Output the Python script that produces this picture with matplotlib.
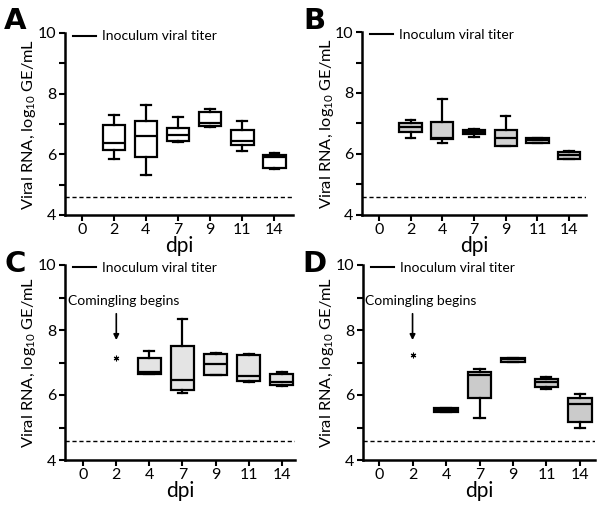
import matplotlib
matplotlib.use('Agg')
import matplotlib.pyplot as plt
from matplotlib.lines import Line2D

plt.rcParams['font.family'] = ['Lato', 'DejaVu Sans']
plt.rcParams['mathtext.fontset'] = 'custom'
plt.rcParams['mathtext.rm'] = 'Lato'

DPI_LABELS = ['0', '2', '4', '7', '9', '11', '14']
INOCULUM = 4.6

# panel A
A_days = ['2', '4', '7', '9', '11', '14']
A_lo = [5.85, 5.33, 6.40, 6.90, 6.10, 5.53]
A_q1 = [6.15, 5.92, 6.45, 6.92, 6.32, 5.55]
A_med = [6.37, 6.59, 6.65, 7.02, 6.45, 5.91]
A_q3 = [6.98, 7.11, 6.87, 7.40, 6.80, 5.99]
A_hi = [7.31, 7.62, 7.23, 7.49, 7.09, 6.05]

# panel B
B_days = ['2', '4', '7', '9', '11', '14']
B_lo = [6.54, 6.37, 6.57, 6.27, 6.35, 5.83]
B_q1 = [6.73, 6.49, 6.64, 6.27, 6.37, 5.85]
B_med = [6.89, 6.54, 6.71, 6.54, 6.45, 5.98]
B_q3 = [7.00, 7.05, 6.78, 6.78, 6.51, 6.05]
B_hi = [7.12, 7.79, 6.83, 7.25, 6.53, 6.11]

# panel C (comingling from day 2)
C_days = ['4', '7', '9', '11', '14']
C_lo = [6.66, 6.05, 6.61, 6.40, 6.29]
C_q1 = [6.66, 6.15, 6.63, 6.43, 6.32]
C_med = [6.72, 6.46, 6.96, 6.60, 6.41]
C_q3 = [7.13, 7.51, 7.25, 7.22, 6.66]
C_hi = [7.35, 8.34, 7.28, 7.26, 6.71]
C_star = 7.15

# panel D
D_days = ['4', '7', '9', '11', '14']
D_lo = [5.49, 5.28, 7.03, 6.17, 5.00]
D_q1 = [5.49, 5.92, 7.03, 6.25, 5.17]
D_med = [5.54, 6.61, 7.10, 6.40, 5.72]
D_q3 = [5.60, 6.72, 7.15, 6.49, 5.92]
D_hi = [5.60, 6.80, 7.15, 6.54, 6.03]
D_star = 7.23

W, H = 600, 505
fig = plt.figure(figsize=(6, 5.05), dpi=100, facecolor='white')


def make_ax(left, right, top, bottom):
    return fig.add_axes([left / W, 1 - bottom / H, (right - left) / W, (bottom - top) / H])


def draw_panel(ax, days, lo, q1, med, q3, hi, fill, xlim, star=None):
    pos = [DPI_LABELS.index(d) for d in days]
    stats = [dict(whislo=a, q1=b, med=c, q3=d, whishi=e)
             for a, b, c, d, e in zip(lo, q1, med, q3, hi)]
    ax.bxp(stats, positions=pos, widths=0.7, capwidths=0.3, patch_artist=True,
           showfliers=False, manage_ticks=False,
           boxprops=dict(facecolor=fill, edgecolor='black', linewidth=1.6),
           medianprops=dict(color='black', linewidth=1.6),
           whiskerprops=dict(color='black', linewidth=1.6),
           capprops=dict(color='black', linewidth=1.6))
    ax.axhline(INOCULUM, color='black', lw=1.0, ls=(0, (3, 2)))
    ax.set_xlim(*xlim)
    ax.set_ylim(4, 10)
    ax.set_xticks(range(len(DPI_LABELS)))
    ax.set_xticklabels(DPI_LABELS)
    ax.set_yticks([4, 6, 8, 10])
    ax.set_yticks([5, 7, 9], minor=True)
    ax.tick_params(axis='both', labelsize=11.5, width=1.5, length=4, pad=2)
    ax.tick_params(axis='y', which='minor', width=1.5, length=4)
    for s in ['top', 'right']:
        ax.spines[s].set_visible(False)
    for s in ['left', 'bottom']:
        ax.spines[s].set_linewidth(1.8)
    ax.set_ylabel('Viral RNA, log$_{\\mathrm{10}}$ GE/mL', fontsize=11.8)
    ax.yaxis.set_label_coords(-0.118, 0.5)
    ax.set_xlabel('dpi', fontsize=15, labelpad=-1)
    handle = Line2D([0], [0], color='black', lw=1.5)
    ax.legend([handle], ['Inoculum viral titer'], loc='upper left', frameon=False,
              fontsize=10, handlelength=1.7, handletextpad=0.4,
              bbox_to_anchor=(0.01, 1.045), borderaxespad=0)
    if star is not None:
        ax.plot(1, star, marker=(6, 2, 0), ms=4, color='black', mew=0.8)
        ax.annotate('', xy=(1, 7.69), xytext=(1, 8.5),
                    arrowprops=dict(arrowstyle='-|>', lw=1.2, color='black',
                                    mutation_scale=8, shrinkA=0, shrinkB=0))
        ax.text(1.23, 8.88, 'Comingling begins', fontsize=10, ha='center', va='center')


axA = make_ax(65, 293, 33, 215)
draw_panel(axA, A_days, A_lo, A_q1, A_med, A_q3, A_hi, 'white', (-0.52, 6.58))
axB = make_ax(362, 586, 32, 215)
draw_panel(axB, B_days, B_lo, B_q1, B_med, B_q3, B_hi, '#d2d2d2', (-0.53, 6.53))
axC = make_ax(65, 295, 265, 460)
draw_panel(axC, C_days, C_lo, C_q1, C_med, C_q3, C_hi, '#e4e4e4', (-0.55, 6.4),
           star=C_star)
axD = make_ax(363, 595, 265, 460)
draw_panel(axD, D_days, D_lo, D_q1, D_med, D_q3, D_hi, '#cbcbcb', (-0.48, 6.45),
           star=D_star)

for lab, x, y in [('A', 4, 29), ('B', 303, 29), ('C', 5, 272), ('D', 302, 272)]:
    fig.text(x / W, 1 - y / H, lab, fontsize=21, fontweight='bold', ha='left', va='baseline',
             family='DejaVu Sans')

fig.savefig('out.png', dpi=100, facecolor='white')
